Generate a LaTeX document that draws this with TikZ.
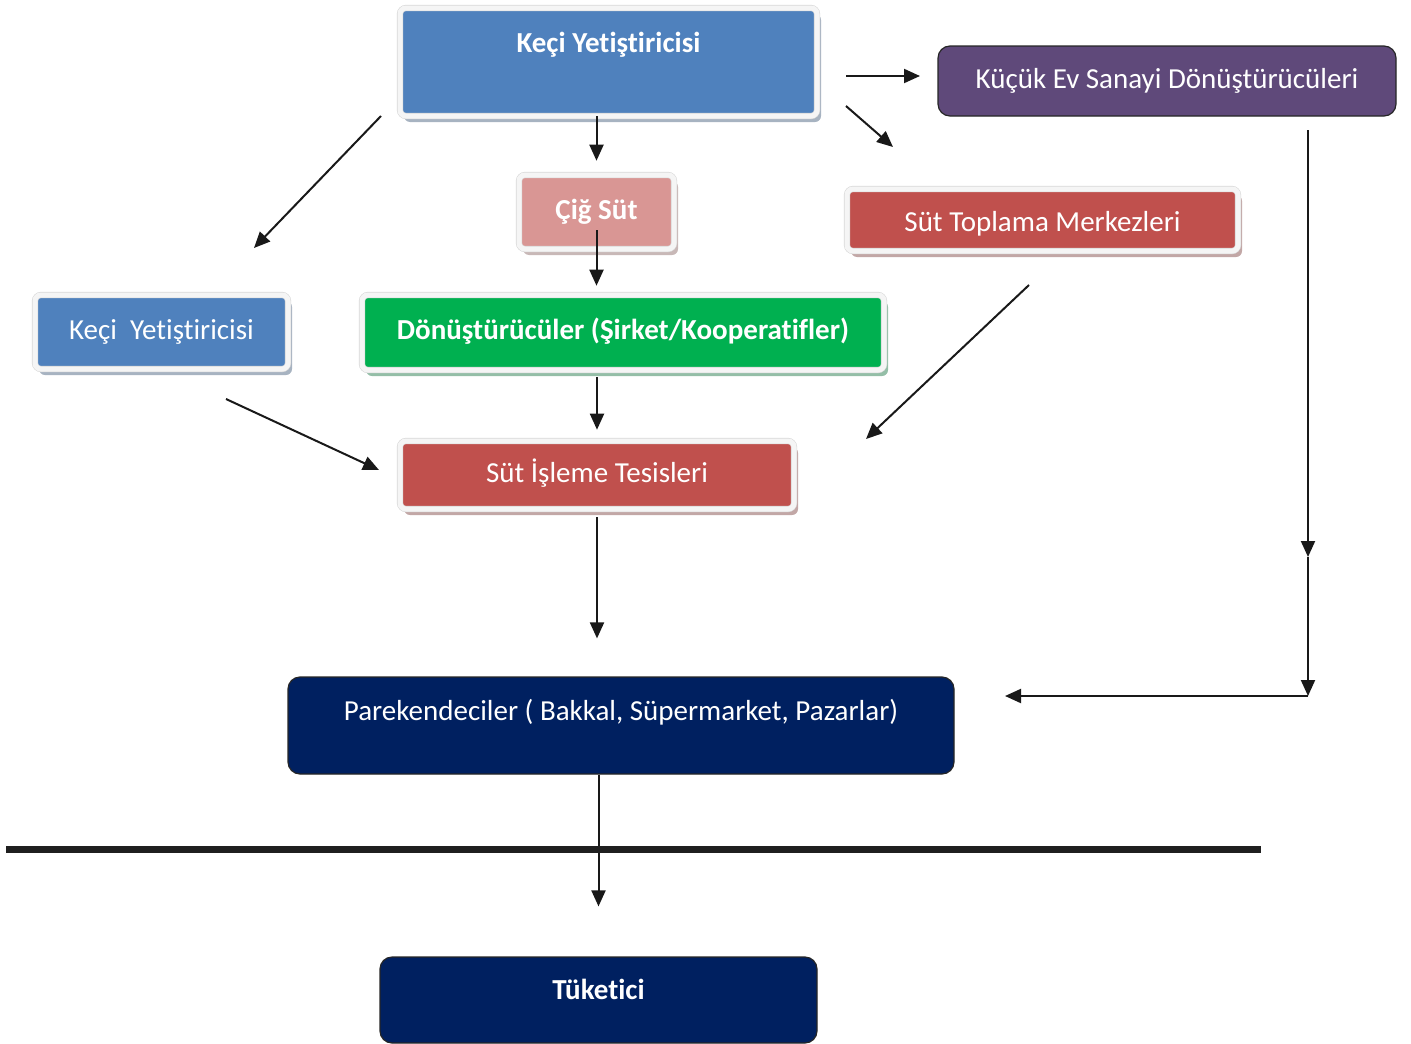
\documentclass[tikz,border=0pt]{standalone}
\usepackage{fontspec}
\setmainfont{Carlito}[Ligatures={NoCommon,NoContextual}, Contextuals=NoAlternate]
\usetikzlibrary{arrows.meta,shadows}
\definecolor{keciblue}{HTML}{4F81BD}
\definecolor{rawpink}{HTML}{D99694}
\definecolor{milkred}{HTML}{C0504D}
\definecolor{homepurple}{HTML}{5F497A}
\definecolor{coopgreen}{HTML}{00B050}
\definecolor{shopnavy}{HTML}{002060}
\tikzset{
  txt/.style={text=white, font=\fontsize{29}{34}\selectfont, text height=20pt, text depth=6pt},
  bold/.style={font=\fontsize{29}{34}\selectfont\bfseries},
  framed/.style={txt, rounded corners=6pt, fill=#1, draw=black!15, double=black!4,
    double distance=5pt, line width=0.6pt,
    general shadow={fill=#1!40!gray!60!white, shadow xshift=4pt, shadow yshift=-6pt}},
  plain/.style={txt, rounded corners=12pt, fill=#1, draw=black!85, line width=1.2pt},
  arr/.style={-{Triangle[length=16pt,width=14pt]}, line width=2pt, black!90}
}
\begin{document}
\begin{tikzpicture}[x=1pt,y=-1pt]
  \useasboundingbox (0,0) rectangle (1411,1044);
  % boxes
  \node[framed=keciblue, bold, minimum width=417pt, minimum height=108pt, text depth=40pt]
       (breeder) at (608.5,62) {Keçi Yetiştiricisi};
  \node[framed=rawpink, bold, minimum width=155pt, minimum height=74pt]
       (rawmilk) at (596.5,212) {Çiğ Süt};
  \node[framed=milkred, minimum width=391pt, minimum height=62pt, text height=28pt]
       (collect) at (1042.5,220) {Süt Toplama Merkezleri};
  \node[plain=homepurple, minimum width=458pt, minimum height=70pt]
       (homemade) at (1167,81) {Küçük Ev Sanayi Dönüştürücüleri};
  \node[framed=keciblue, minimum width=253pt, minimum height=74pt]
       (breeder2) at (161.5,332) {Keçi\ \ Yetiştiricisi};
  \node[framed=coopgreen, bold, minimum width=522pt, minimum height=75pt]
       (convert) at (623,332.5) {Dönüştürücüler (Şirket/Kooperatifler)};
  \node[framed=milkred, minimum width=394pt, minimum height=68pt]
       (plant) at (597,475) {Süt İşleme Tesisleri};
  \node[plain=shopnavy, minimum width=666pt, minimum height=97pt, text depth=30pt]
       (retail) at (621,725.5) {Parekendeciler ( Bakkal, Süpermarket, Pazarlar)};
  \node[plain=shopnavy, bold, minimum width=437pt, minimum height=86pt, text depth=21pt]
       (consumer) at (598.5,1000) {Tüketici};

  % free arrow ends
  \coordinate (leftA) at (381,116);   \coordinate (leftB) at (254,248);
  \coordinate (homeA) at (846,76);    \coordinate (homeB) at (920,76);
  \coordinate (collA) at (846,106);   \coordinate (collB) at (893,147);
  \coordinate (plantA) at (1029,285); \coordinate (plantB) at (866,439);
  \coordinate (sideA) at (226,399);   \coordinate (sideB) at (379,470);
  \coordinate (down1) at (1308,130);  \coordinate (down2) at (1308,557);
  \coordinate (down3) at (1308,696);  \coordinate (back) at (1005,696);

  % connectors
  \draw[arr, shorten >=14pt] (rawmilk.north |- breeder.south) -- (rawmilk.north);
  \draw[arr, shorten <=18pt, shorten >=9pt] (rawmilk.center) -- (rawmilk.center |- convert.north);
  \draw[arr, shorten <=7pt, shorten >=11pt] (plant.north |- convert.south) -- (plant.north);
  \draw[arr, shorten <=8pt, shorten >=38pt] (plant.south) -- (plant.south |- retail.north);
  \draw[arr, shorten >=50pt] (consumer.north |- retail.south) -- (consumer.north);
  \draw[arr] (leftA) -- (leftB);
  \draw[arr] (homeA) -- (homeB);
  \draw[arr] (collA) -- (collB);
  \draw[arr] (plantA) -- (plantB);
  \draw[arr] (sideA) -- (sideB);
  \draw[arr] (down1) -- (down2);
  \draw[arr] (down2) -- (down3);
  \draw[arr] (down3) -- (back);

  % separator
  \draw[line width=7pt, black!88] (6,849) -- (1261,849);
\end{tikzpicture}
\end{document}
